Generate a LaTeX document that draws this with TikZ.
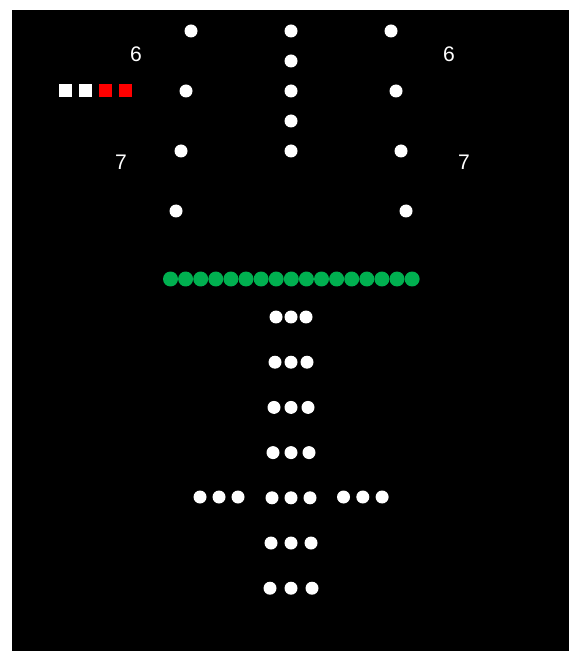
\documentclass[tikz,border=0pt]{standalone}
\usepackage{fontspec}
\setmainfont{Liberation Sans}
\definecolor{markgreen}{RGB}{0,176,80}
\begin{document}
\begin{tikzpicture}[x=0.02cm, y=-0.02cm, font=\fontsize{12}{14}\selectfont,
    wdot/.style={circle, fill=white, inner sep=0pt, minimum size=0.26cm},
    gdot/.style={circle, fill=markgreen, inner sep=0pt, minimum size=0.3cm},
    sq/.style={fill=#1, inner sep=0pt, minimum size=0.26cm},
    num/.style={text=white, inner sep=0pt}]
    % Background
    \useasboundingbox (0,0) rectangle (571,651);
    \fill[white] (0,0) rectangle (571,651);
    \fill[black] (12,10) rectangle (569,651);

    % Centre column
    \foreach \i/\y in {1/31,2/61,3/91,4/121,5/151}
        \node[wdot] (mid-\i) at (291,\y) {};

    % Side arms
    \foreach \i/\dx/\y in {1/100/31,2/105/91,3/110/151,4/115/211} {
        \node[wdot] (left-\i) at (291-\dx,\y) {};
        \node[wdot] (right-\i) at (291+\dx,\y) {};
    }

    % Numbers
    \node[num] (six-l) at (136,54) {6};
    \node[num] (six-r) at (449,54) {6};
    \node[num] (seven-l) at (121,162) {7};
    \node[num] (seven-r) at (464,162) {7};

    % Squares
    \foreach \i/\x/\c in {1/65/white,2/85/white,3/105/red,4/125/red}
        \node[sq=\c] (sq-\i) at (\x,91) {};

    % Green bar
    \foreach \i in {0,...,16}
        \node[gdot] (bar-\i) at (170.5+15.1*\i,279) {};

    % Rows of three
    \foreach \k in {0,...,6} {
        \pgfmathsetmacro\sp{15+\k}
        \foreach \j in {1,2,3}
            \node[wdot] (row-\k-\j) at (291+\j*\sp-2*\sp,317+45.2*\k) {};
    }

    % Side groups
    \foreach \j in {0,1,2} {
        \node[wdot] (side-l-\j) at (200+19*\j,497) {};
        \node[wdot] (side-r-\j) at (343.5+19.3*\j,497) {};
    }
\end{tikzpicture}
\end{document}
